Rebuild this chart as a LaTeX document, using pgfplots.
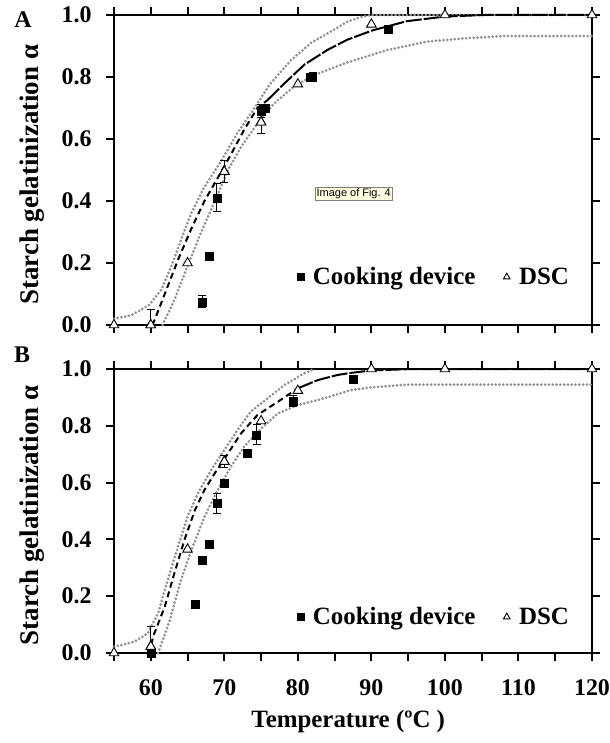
\documentclass[border=0pt]{standalone}
\usepackage{pgfplots}
\pgfplotsset{compat=1.18}
\usepackage{fontspec}
\setmainfont{Liberation Serif}
\newfontfamily\tipfont{Liberation Sans}
\definecolor{greyband}{RGB}{145,145,145}
\definecolor{tipfill}{RGB}{255,255,225}
\pgfplotsset{
  panel/.style={
    scale only axis, width=478bp,
    xmin=55, xmax=120, ymin=0, ymax=1,
    clip=false,
    axis line style={line width=2.4bp, black},
    tick style={line width=2bp, black},
    tick align=outside,
    major tick length=8bp, minor tick length=8bp,
    xtick={60,70,80,90,100,110,120},
    minor xtick={55,65,75,85,95,105,115},
    ytick={0,0.2,0.4,0.6,0.8,1},
    yticklabel={\pgfmathprintnumber[fixed,fixed zerofill,precision=1]{\tick}},
    /pgf/number format/assume math mode=true,
    ticklabel style={font=\bfseries\fontsize{24}{24}\selectfont},
    yticklabel style={xshift=-11bp},
    xticklabel style={yshift=-15bp},
    ylabel={Starch gelatinization α},
    ylabel style={font=\bfseries\fontsize{27}{27}\selectfont, at={(axis description cs:-0.1715,0.485)}, anchor=center},
    legend style={draw=none, fill=none, anchor=west, legend columns=2,
      font=\bfseries\fontsize{25}{25}\selectfont,
      /tikz/every odd column/.append style={column sep=7bp},
      /tikz/every even column/.append style={column sep=26bp}},
    legend cell align=left,
  },
  sq/.style={only marks, mark=square*, mark size=4bp, mark options={fill=black, draw=black}},
  tri/.style={only marks, mark=triangle*, mark size=5.5bp, mark options={fill=white, draw=black, line width=0.9bp}},
  eb/.style={error bars/y dir=both, error bars/y explicit,
    error bars/error bar style={line width=1bp, black},
    error bars/error mark options={rotate=90, mark size=4bp, line width=1bp, black}},
  band/.style={greyband, line width=3bp, line cap=round, dash pattern=on 0bp off 3.8bp},
  model/.style={black, line width=2bp, dash pattern=on 6bp off 4bp},
  modelsolid/.style={black, line width=2bp, dash pattern=on 16bp off 2bp},
}
\begin{document}
\begin{tikzpicture}[x=1bp,y=1bp]
\path[use as bounding box] (0,0) rectangle (610,-743);
\node[font=\bfseries\fontsize{24}{24}\selectfont] at (23,-20) {A};
\node[font=\bfseries\fontsize{24}{24}\selectfont] at (22,-355) {B};

% ---------------- Panel A ----------------
\begin{axis}[panel, at={(114bp,-15bp)}, anchor=north west, height=310bp,
  xticklabels={},
  legend style={at={(axis description cs:0.376,0.155)}}]
\addplot[band, forget plot] coordinates {
(55,0.02) (57.4,0.032) (59.8,0.065) (61.4,0.113) (62.8,0.19) (64.1,0.274) (65.5,0.36)
(67.3,0.446) (69.6,0.53) (71.8,0.62) (74.1,0.70) (76.3,0.78) (79.1,0.855) (81.8,0.91)
(84.5,0.947) (86.8,0.979) (88.5,0.993) (90,1.0) (120,1.0)};
\addplot[band, forget plot] coordinates {
(61.6,0) (63.2,0.08) (65.0,0.19) (66.8,0.296) (68.7,0.40) (70.5,0.50) (72.3,0.575)
(74.5,0.65) (76.8,0.715) (79.5,0.77) (82.2,0.806) (86.5,0.845) (92.2,0.887) (97.5,0.914)
(102.8,0.925) (108,0.932) (120,0.932)};
\addplot[model, forget plot] coordinates {
(60.2,0) (60.5,0.015) (61.9,0.10) (63.7,0.21) (65.5,0.31) (67.3,0.40) (69,0.47)
(70.9,0.55) (72.7,0.63) (74.5,0.70) (75.9,0.726)};
\addplot[modelsolid, forget plot] coordinates {
(75.9,0.726) (78.2,0.78) (80.9,0.84) (84.0,0.887) (86.7,0.92) (90.1,0.95) (94.8,0.98)
(100,0.995) (105.4,1.0) (120,1.0)};
% error bars
\addplot[sq, forget plot, eb] coordinates {
(67,0.075) +- (0,0.02)
(69,0.41) +- (0,0.045)
(75,0.69) +- (0,0.02)
(82,0.80) +- (0,0.015)};
\addplot[tri, forget plot, eb] coordinates {
(60,0) += (0,0.05) -= (0,0)
(70,0.495) +- (0,0.035)
(75,0.654) +- (0,0.035)};
\addplot[sq, legend image post style={mark size=3.5bp}] coordinates {
(67,0.075) (68,0.223) (69,0.41) (75,0.69) (75.5,0.70) (81.7,0.80) (92.3,0.954)};
\addlegendentry{Cooking device}
\addplot[tri, legend image post style={mark size=3.8bp}] coordinates {
(55,0) (60,0) (65,0.20) (70,0.495) (75,0.654) (80,0.777) (90,0.97) (100,1.0) (120,1.0)};
\addlegendentry{DSC}
\node[font=\tipfont\fontsize{11}{12}\selectfont, fill=tipfill, draw=gray, line width=0.5bp,
  inner sep=1.5bp] at (axis cs:87.6,0.424) {Image of Fig. 4};
\end{axis}

% ---------------- Panel B ----------------
\begin{axis}[panel, at={(114bp,-369bp)}, anchor=north west, height=284bp,
  xlabel={Temperature (ºC )},
  xlabel style={font=\bfseries\fontsize{25}{25}\selectfont, at={(axis description cs:0.49,-0.24)}, anchor=center},
  legend style={at={(axis description cs:0.376,0.127)}}]
\addplot[band, forget plot] coordinates {
(55,0.022) (57.8,0.04) (59.6,0.07) (61.0,0.14) (62.3,0.257) (63.7,0.374) (65.0,0.48)
(66.4,0.562) (68.2,0.644) (70.0,0.715) (71.8,0.785) (73.6,0.85) (75.9,0.897) (78.2,0.944)
(80.9,0.985) (82.2,1.0)};
\addplot[band, forget plot] coordinates {
(61,0) (62.6,0.116) (64.1,0.257) (65.7,0.374) (67.3,0.48) (69.1,0.574) (70.9,0.656)
(72.7,0.727) (75.0,0.79) (77.3,0.844) (80.0,0.873) (83.6,0.897) (87.1,0.925) (89.8,0.935)
(95,0.945) (120,0.945)};
\addplot[model, forget plot] coordinates {
(60.1,0.03) (60.3,0.057) (61.9,0.163) (63.2,0.28) (64.6,0.40) (66.0,0.503) (67.3,0.574)
(68.7,0.633) (70.5,0.703) (72.3,0.774) (74.5,0.838) (77.3,0.885) (80.0,0.932)};
\addplot[modelsolid, forget plot] coordinates {
(80.0,0.932) (82.7,0.961) (85.4,0.979) (87.1,0.986) (90,0.995) (95.6,1.0) (120,1.0)};
\addplot[sq, forget plot, eb] coordinates {
(69,0.527) +- (0,0.035)
(74.4,0.768) +- (0,0.035)
(79.4,0.887) +- (0,0.02)};
\addplot[tri, forget plot, eb] coordinates {
(60,0.023) += (0,0.07) -= (0,0.023)
(70,0.674) +- (0,0.02)};
\addplot[sq, legend image post style={mark size=3.5bp}] coordinates {
(60,0) (66,0.173) (67,0.327) (67.9,0.383) (69,0.527) (70,0.597) (73.1,0.703) (74.4,0.768)
(79.4,0.887) (87.5,0.965)};
\addlegendentry{Cooking device}
\addplot[tri, legend image post style={mark size=3.8bp}] coordinates {
(55,0) (60,0.023) (65,0.365) (70,0.674) (75,0.817) (80,0.924) (90,1.0) (100,1.0) (120,1.0)};
\addlegendentry{DSC}
\end{axis}
\end{tikzpicture}
\end{document}
